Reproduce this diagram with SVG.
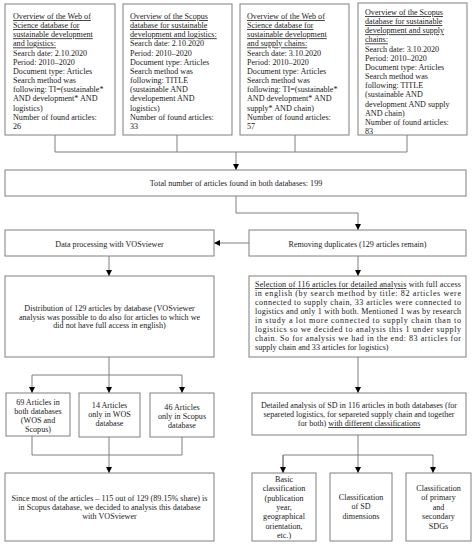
<svg xmlns="http://www.w3.org/2000/svg" width="474" height="546" viewBox="0 0 474 546">
<style>
.box{fill:#fff;stroke:#7f7f7f;stroke-width:1}
.ln{fill:none;stroke:#7f7f7f;stroke-width:1}
.t{font-family:"Liberation Serif",serif;font-size:8.1px;fill:#1a1a1a}
.c{text-anchor:middle}
.u{text-decoration:underline}
</style>
<defs>
<marker id="ah" markerUnits="userSpaceOnUse" markerWidth="6" markerHeight="6" viewBox="0 0 6 6" refX="6" refY="3" orient="auto">
<path d="M0,0 L6,3 L0,6 Z" fill="#000"/>
</marker>
</defs>
<rect width="474" height="546" fill="#fff"/>
<g id="connectors">
<path class="ln" d="M55,135V152M177,135V152M295,135V152M407,135V152M55,152H407"/>
<path class="ln" d="M236,152V170" marker-end="url(#ah)"/>
<path class="ln" d="M236,196V213H358V230" marker-end="url(#ah)"/>
<path class="ln" d="M249,243H214" marker-end="url(#ah)"/>
<path class="ln" d="M109,256V276" marker-end="url(#ah)"/>
<path class="ln" d="M109,357V375M32,375H182"/>
<path class="ln" d="M32,375V393" marker-end="url(#ah)"/>
<path class="ln" d="M109,375V393" marker-end="url(#ah)"/>
<path class="ln" d="M182,375V393" marker-end="url(#ah)"/>
<path class="ln" d="M32,436V455H182V437"/>
<path class="ln" d="M109,437V473" marker-end="url(#ah)"/>
<path class="ln" d="M358,256V276" marker-end="url(#ah)"/>
<path class="ln" d="M358,357V393" marker-end="url(#ah)"/>
<path class="ln" d="M358,435V473" marker-end="url(#ah)"/>
<path class="ln" d="M283,473V455H433V473" marker-end="url(#ah)"/>
<path class="ln" d="M283,455V473" marker-end="url(#ah)"/>
</g>
<g id="wos-logistics">
<rect class="box" x="5" y="4" width="110" height="131"/>
<text class="t" x="13" y="19"><tspan class="u">Overview of the Web of</tspan><tspan x="13" dy="9.15" class="u">Science database for</tspan><tspan x="13" dy="9.15" class="u">sustainable development</tspan><tspan x="13" dy="9.15" class="u">and logistics:</tspan><tspan x="13" dy="9.15">Search date: 2.10.2020</tspan><tspan x="13" dy="9.15">Period: 2010–2020</tspan><tspan x="13" dy="9.15">Document type: Articles</tspan><tspan x="13" dy="9.15">Search method was</tspan><tspan x="13" dy="9.15">following: TI=(sustainable*</tspan><tspan x="13" dy="9.15">AND development* AND</tspan><tspan x="13" dy="9.15">logistics)</tspan><tspan x="13" dy="9.15">Number of found articles:</tspan><tspan x="13" dy="9.15">26</tspan></text>
</g>
<g id="scopus-logistics">
<rect class="box" x="123" y="4" width="109" height="131"/>
<text class="t" x="130" y="19"><tspan class="u">Overview of the Scopus</tspan><tspan x="130" dy="9.15" class="u">database for sustainable</tspan><tspan x="130" dy="9.15" class="u">development and logistics:</tspan><tspan x="130" dy="9.15">Search date: 2.10.2020</tspan><tspan x="130" dy="9.15">Period:  2010–2020</tspan><tspan x="130" dy="9.15">Document type: Articles</tspan><tspan x="130" dy="9.15">Search method was</tspan><tspan x="130" dy="9.15">following: TITLE</tspan><tspan x="130" dy="9.15">(sustainable AND</tspan><tspan x="130" dy="9.15">developement AND</tspan><tspan x="130" dy="9.15">logistics)</tspan><tspan x="130" dy="9.15">Number of found articles:</tspan><tspan x="130" dy="9.15">33</tspan></text>
</g>
<g id="wos-supply">
<rect class="box" x="240" y="4" width="109" height="131"/>
<text class="t" x="247" y="19"><tspan class="u">Overview of the Web of</tspan><tspan x="247" dy="9.15" class="u">Science database for</tspan><tspan x="247" dy="9.15" class="u">sustainable development</tspan><tspan x="247" dy="9.15" class="u">and supply chains:</tspan><tspan x="247" dy="9.15">Search date: 3.10.2020</tspan><tspan x="247" dy="9.15">Period:  2010–2020</tspan><tspan x="247" dy="9.15">Document type: Articles</tspan><tspan x="247" dy="9.15">Search method was</tspan><tspan x="247" dy="9.15">following: TI=(sustainable*</tspan><tspan x="247" dy="9.15">AND development* AND</tspan><tspan x="247" dy="9.15">supply* AND chain)</tspan><tspan x="247" dy="9.15">Number of found articles:</tspan><tspan x="247" dy="9.15">57</tspan></text>
</g>
<g id="scopus-supply">
<rect class="box" x="358" y="3" width="109" height="132"/>
<text class="t" x="365" y="15"><tspan class="u">Overview of the Scopus</tspan><tspan x="365" dy="9.15" class="u">database for sustainable</tspan><tspan x="365" dy="9.15" class="u">development and supply</tspan><tspan x="365" dy="9.15" class="u">chains:</tspan><tspan x="365" dy="9.15">Search date: 3.10.2020</tspan><tspan x="365" dy="9.15">Period:  2010–2020</tspan><tspan x="365" dy="9.15">Document type: Articles</tspan><tspan x="365" dy="9.15">Search method was</tspan><tspan x="365" dy="9.15">following: TITLE</tspan><tspan x="365" dy="9.15">(sustainable AND</tspan><tspan x="365" dy="9.15">development AND supply</tspan><tspan x="365" dy="9.15">AND chain)</tspan><tspan x="365" dy="9.15">Number of found articles:</tspan><tspan x="365" dy="9.15">83</tspan></text>
</g>
<g id="total">
<rect class="box" x="5" y="170" width="461" height="26"/>
<text class="t c" x="236" y="186">Total number of articles found in both databases: 199</text>
</g>
<g id="data-processing">
<rect class="box" x="5" y="230" width="209" height="26"/>
<text class="t c" x="109.5" y="247">Data processing with VOSviewer</text>
</g>
<g id="removing">
<rect class="box" x="249" y="230" width="217" height="26"/>
<text class="t c" x="357.5" y="247">Removing duplicates (129 articles remain)</text>
</g>
<g id="distribution">
<rect class="box" x="5" y="276" width="209" height="81"/>
<text class="t c" x="109.5" y="311">Distribution of 129 articles by database (VOSviewer<tspan x="109.5" dy="8.7">analysis was possible to do also for articles to which we</tspan><tspan x="109.5" dy="8.7">did not have full access in english)</tspan></text>
</g>
<g id="both-db">
<rect class="box" x="6" y="393" width="64" height="43"/>
<text class="t c" x="38" y="405">69 Articles in<tspan x="38" dy="9">both databases</tspan><tspan x="38" dy="9">(WOS and</tspan><tspan x="38" dy="9">Scopus)</tspan></text>
</g>
<g id="only-wos">
<rect class="box" x="79" y="393" width="61" height="44"/>
<text class="t c" x="109.5" y="408">14 Articles<tspan x="109.5" dy="9">only in WOS</tspan><tspan x="109.5" dy="9">database</tspan></text>
</g>
<g id="only-scopus">
<rect class="box" x="150" y="393" width="64" height="44"/>
<text class="t c" x="182" y="409.5">46 Articles<tspan x="182" dy="9">only in Scopus</tspan><tspan x="182" dy="9">database</tspan></text>
</g>
<g id="since-most">
<rect class="box" x="5" y="473" width="209" height="68"/>
<text class="t c" x="109.5" y="501">Since most of the articles – 115 out of 129 (89.15% share) is<tspan x="109.5" dy="9">in Scopus database, we decided to analysis this database</tspan><tspan x="109.5" dy="9">with VOSviewer</tspan></text>
</g>
<g id="selection">
<rect class="box" x="249" y="276" width="217" height="81"/>
<text class="t" x="255" y="287" textLength="206" lengthAdjust="spacing"><tspan class="u">Selection of 116 articles for detailed analysis</tspan> with full access</text>
<text class="t" x="255" y="296" textLength="206" lengthAdjust="spacing">in english (by search method by title: 82 articles were</text>
<text class="t" x="255" y="305" textLength="206" lengthAdjust="spacing">connected to supply chain, 33 articles were connected to</text>
<text class="t" x="255" y="314" textLength="206" lengthAdjust="spacing">logistics and only 1 with both. Mentioned 1 was by research</text>
<text class="t" x="255" y="323" textLength="206" lengthAdjust="spacing">in study a lot more connected to supply chain than to</text>
<text class="t" x="255" y="332" textLength="206" lengthAdjust="spacing">logistics so we decided to analysis this 1 under supply</text>
<text class="t" x="255" y="341" textLength="206" lengthAdjust="spacing">chain. So for analysis we had in the end: 83 articles for</text>
<text class="t" x="255" y="350">supply chain and 33 articles for logistics)</text>
</g>
<g id="detailed">
<rect class="box" x="252" y="393" width="214" height="42"/>
<text class="t c" x="359" y="408">Detailed analysis of SD in 116 articles in both databases (for<tspan x="359" dy="9">separeted logistics, for separeted supply chain and together</tspan><tspan x="359" dy="9">for both) <tspan class="u">with different classifications</tspan></tspan></text>
</g>
<g id="basic">
<rect class="box" x="252" y="473" width="64" height="68"/>
<text class="t c" x="284" y="482">Basic<tspan x="284" dy="9.3">classification</tspan><tspan x="284" dy="9.3">(publication</tspan><tspan x="284" dy="9.3">year,</tspan><tspan x="284" dy="9.3">geographical</tspan><tspan x="284" dy="9.3">orientation,</tspan><tspan x="284" dy="9.3">etc.)</tspan></text>
</g>
<g id="sd-dimensions">
<rect class="box" x="330" y="473" width="62" height="68"/>
<text class="t c" x="361" y="500">Classification<tspan x="361" dy="9.3">of SD</tspan><tspan x="361" dy="9.3">dimensions</tspan></text>
</g>
<g id="sdgs">
<rect class="box" x="406" y="473" width="65" height="68"/>
<text class="t c" x="438.5" y="491">Classification<tspan x="438.5" dy="9.4">of primary</tspan><tspan x="438.5" dy="9.4">and</tspan><tspan x="438.5" dy="9.4">secondary</tspan><tspan x="438.5" dy="9.4">SDGs</tspan></text>
</g>
</svg>
